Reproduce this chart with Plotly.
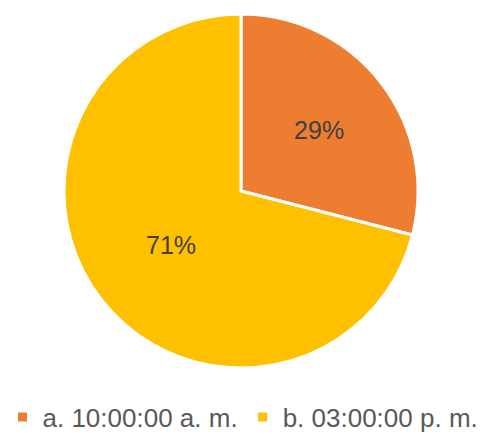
import plotly.graph_objects as go

labels = ["a. 10:00:00 a. m.", "b. 03:00:00 p. m."]
values = [29, 71]
colors = ["#ED7D31", "#FFC000"]

W, H = 486, 434
fig = go.Figure(go.Pie(
    labels=labels, values=values, sort=False, direction="clockwise", rotation=0,
    marker=dict(colors=colors, line=dict(color="white", width=3)),
    textinfo="percent", textposition="inside", insidetextorientation="horizontal",
    texttemplate="%{percent:.0%}",
    textfont=dict(family="Liberation Sans, Arial", size=25, color="#404040"),
    domain=dict(x=[64 / W, 418 / W], y=[(H - 368) / H, (H - 14) / H]),
    hoverinfo="label+percent",
))
fig.update_layout(
    width=W, height=H, margin=dict(l=0, r=0, t=0, b=0, autoexpand=False),
    paper_bgcolor="white", plot_bgcolor="white",
    showlegend=True,
    legend=dict(orientation="h", x=0.5, xanchor="center", y=-0.015, yanchor="bottom",
                font=dict(family="Liberation Sans, Arial", size=26, color="#595959"),
                itemwidth=30, tracegroupgap=0),
)
fig.write_html("out.html")
